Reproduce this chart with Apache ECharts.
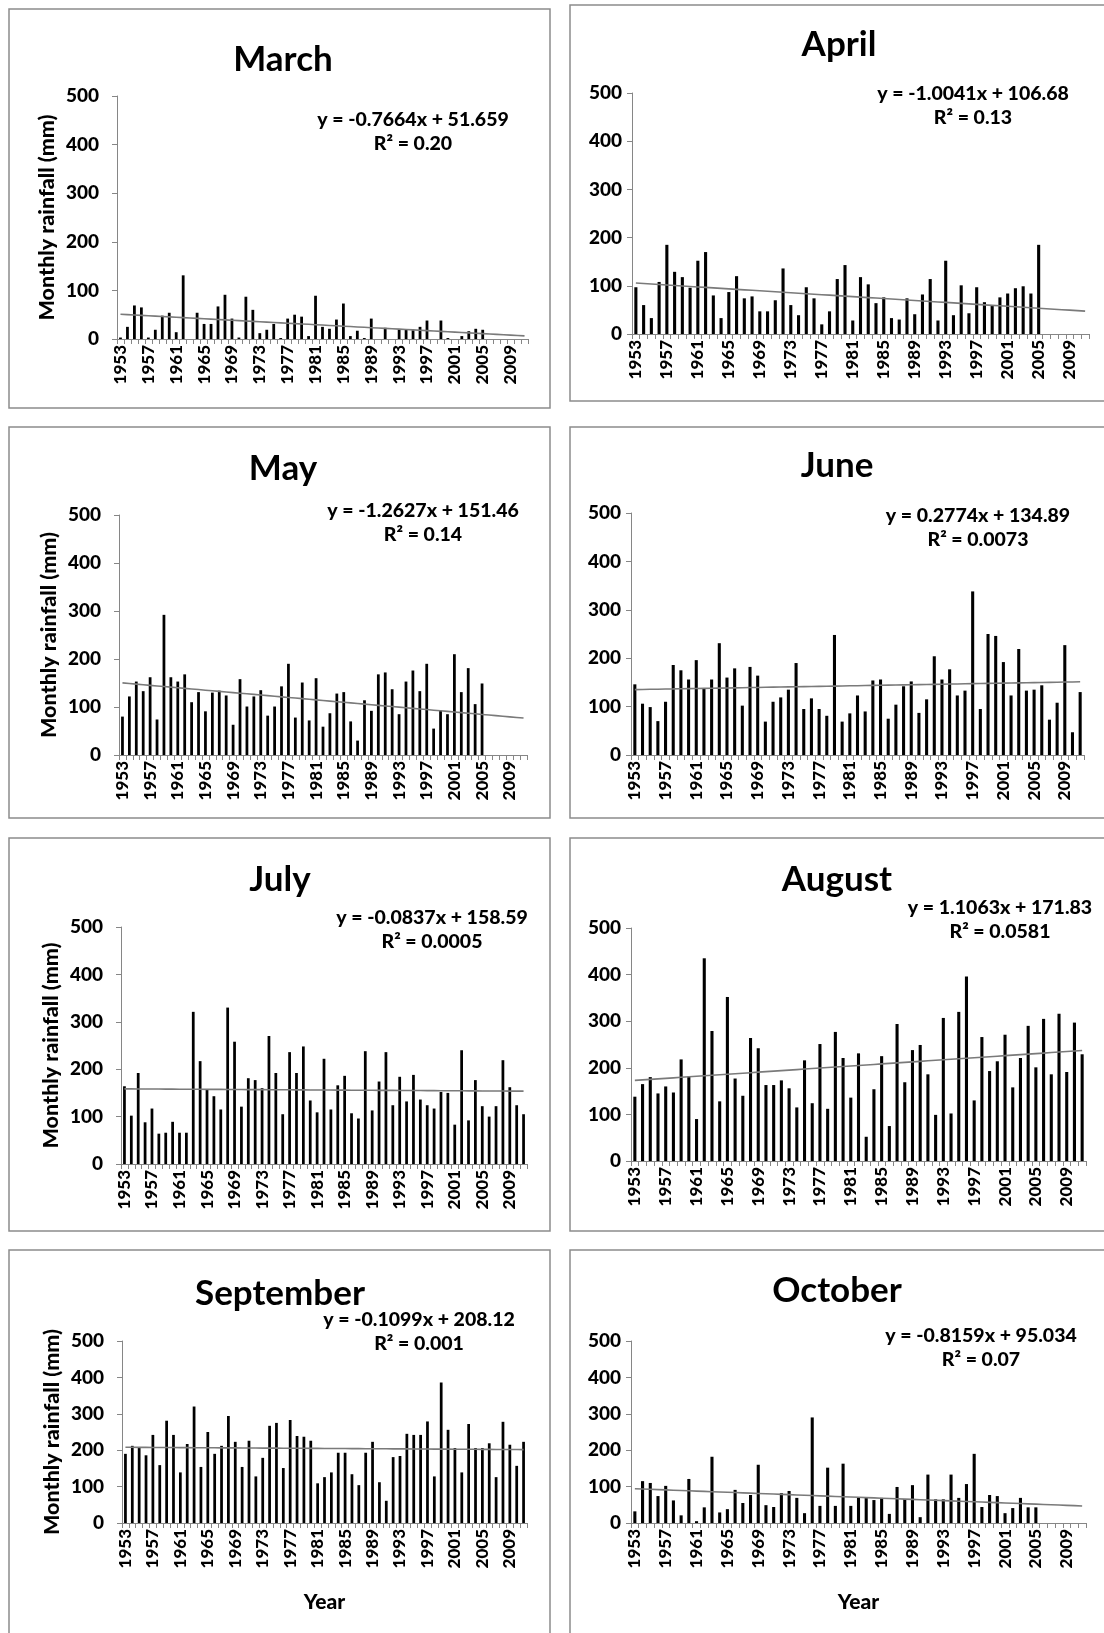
<!DOCTYPE html>
<html>
<head>
<meta charset="utf-8">
<script src="https://cdn.jsdelivr.net/npm/echarts@6/dist/echarts.min.js"></script>
<style>
  html, body { margin: 0; padding: 0; background: #ffffff; }
  #chart { width: 1104px; height: 1633px; }
</style>
</head>
<body>
<div id="chart"></div>
<script>
// Years on the category axis (1953–2011)
const years = ['1953','1954','1955','1956','1957','1958','1959','1960','1961','1962',
  '1963','1964','1965','1966','1967','1968','1969','1970','1971','1972',
  '1973','1974','1975','1976','1977','1978','1979','1980','1981','1982',
  '1983','1984','1985','1986','1987','1988','1989','1990','1991','1992',
  '1993','1994','1995','1996','1997','1998','1999','2000','2001','2002',
  '2003','2004','2005','2006','2007','2008','2009','2010','2011'];

// Monthly rainfall totals (mm); null = no record for that year
const march = [3,25,69,65,3,19,48,54,14,131, 0,54,31,31,67,91,42,3,87,60,
  12,19,31,2,42,50,46,6,89,25, 21,40,73,6,17,2,42,0,23,0,
  20,19,18,25,38,0,38,2,0,6, 16,21,19, null,null,null,null,null,null];
const april = [97,60,33,108,185,129,118,96,152,170, 80,33,87,120,74,78,47,47,70,136,
  60,39,97,74,20,47,114,143,28,118, 103,64,76,33,30,74,41,82,114,28,
  152,39,101,43,97,66,59,76,84,95, 99,84,185, null,null,null,null,null,null];
const may = [80,122,153,133,162,74,292,162,153,168, 110,131,91,130,134,124,63,158,101,122,
  135,82,101,143,190,78,151,72,160,59, 87,128,131,70,30,114,92,168,172,137,
  85,153,176,133,190,55,92,85,210,131, 181,106,149, null,null,null,null,null,null];
const june = [146,106,99,70,110,186,175,156,196,137, 156,231,160,179,102,182,164,69,110,119,
  135,190,95,117,95,81,248,69,86,123, 90,154,156,75,104,142,152,87,115,204,
  156,177,123,133,338,95,250,246,192,123, 219,133,135,144,73,108,227,47,130];
const july = [164,102,192,88,117,64,66,89,66,66, 321,217,157,143,115,330,258,121,181,177,
  160,270,192,105,236,192,248,134,109,222, 115,166,186,107,96,238,113,174,236,124,
  184,132,188,136,124,117,152,150,83,240, 92,177,122,100,122,219,162,124,105];
const august = [138,165,180,145,160,147,218,181,90,435, 279,128,352,177,140,264,242,163,163,173,
  156,115,216,124,251,112,277,221,136,231, 52,154,225,75,294,169,238,249,186,99,
  307,102,320,396,130,266,193,214,271,158, 221,290,201,305,186,316,191,297,229];
const september = [190,212,208,186,242,159,281,242,139,217, 320,154,250,190,212,294,223,154,226,128,
  179,267,275,151,283,239,237,226,109,126, 139,193,193,134,104,193,223,112,61,181,
  184,245,242,242,279,128,386,256,206,139, 272,206,206,219,126,278,215,157,223];
const october = [32,115,110,74,102,62,21,121,5,43, 182,29,38,91,55,77,160,49,44,82,
  88,69,27,290,47,152,47,163,47,69, 71,63,69,25,99,66,104,16,133,65,
  65,133,69,107,190,44,77,74,27,41, 69,43,43, null,null,null,null,null,null];

// Linear trend coefficients (x = 1 for the first year) and R² labels
const slopes     = [-0.7664, -1.0041, -1.2627, 0.2774, -0.0837, 1.1063, -0.1099, -0.8159];
const intercepts = [51.659, 106.68, 151.46, 134.89, 158.59, 171.83, 208.12, 95.034];
const r2Labels   = ['0.20', '0.13', '0.14', '0.0073', '0.0005', '0.0581', '0.001', '0.07'];
const eqLabels   = ['-0.7664x + 51.659', '-1.0041x + 106.68', '-1.2627x + 151.46', '0.2774x + 134.89',
                    '-0.0837x + 158.59', '1.1063x + 171.83', '-0.1099x + 208.12', '-0.8159x + 95.034'];
const monthNames = ['March', 'April', 'May', 'June', 'July', 'August', 'September', 'October'];
const monthData  = [march, april, may, june, july, august, september, october];
const yTicks = [0, 100, 200, 300, 400, 500];

const FONT = 'Lato, "Open Sans", "DejaVu Sans", sans-serif';
const HEAVY = 900;
const AXIS_GREY = '#868686';

// Panel layout: frame box, plot grid, title centre, equation centre
const layout = [
  { box: [9, 9, 541, 399],   grid: [117, 96, 411, 243],   title: [283, 60],  eq: [413, 120], col: 0, bottom: false },
  { box: [570, 5, 545, 396], grid: [632, 93, 457, 241],   title: [839, 45],  eq: [973, 94],  col: 1, bottom: false },
  { box: [9, 427, 541, 391], grid: [119, 515, 408, 240],  title: [283, 469], eq: [423, 511], col: 0, bottom: false },
  { box: [570, 427, 545, 391], grid: [631, 513, 453, 242], title: [837, 466], eq: [978, 516], col: 1, bottom: false },
  { box: [9, 838, 541, 393], grid: [121, 927, 406, 237],  title: [280, 880], eq: [432, 918], col: 0, bottom: false },
  { box: [570, 838, 545, 393], grid: [631, 928, 455, 233], title: [837, 880], eq: [1000, 908], col: 1, bottom: false },
  { box: [9, 1250, 541, 400], grid: [122, 1341, 405, 182], title: [280, 1294], eq: [419, 1320], col: 0, bottom: true },
  { box: [570, 1250, 545, 400], grid: [631, 1341, 455, 182], title: [837, 1291], eq: [981, 1336], col: 1, bottom: true }
];

const grids = [], xAxes = [], yAxes = [], series = [], graphics = [];

layout.forEach((p, k) => {
  grids.push({ left: p.grid[0], top: p.grid[1], width: p.grid[2], height: p.grid[3], containLabel: false });

  xAxes.push({
    gridIndex: k, type: 'category', data: years, boundaryGap: true,
    axisLine: { show: true, lineStyle: { color: AXIS_GREY, width: 1 } },
    axisTick: { show: true, interval: 0, length: 5, lineStyle: { color: AXIS_GREY } },
    axisLabel: { interval: 3, rotate: 90, margin: 6, color: '#000', fontFamily: FONT,
                 fontWeight: HEAVY, fontSize: 17 },
    splitLine: { show: false },
    name: p.bottom ? 'Year' : '', nameLocation: 'middle', nameGap: 69,
    nameTextStyle: { color: '#000', fontFamily: FONT, fontWeight: HEAVY, fontSize: 21 }
  });

  yAxes.push({
    gridIndex: k, type: 'value', min: yTicks[0], max: yTicks[yTicks.length - 1], interval: 100,
    axisLine: { show: true, lineStyle: { color: AXIS_GREY, width: 1 } },
    axisTick: { show: true, length: 5, lineStyle: { color: AXIS_GREY } },
    axisLabel: { margin: p.col === 0 ? 18 : 10, color: '#000', fontFamily: FONT,
                 fontWeight: HEAVY, fontSize: 19 },
    splitLine: { show: false },
    name: p.col === 0 ? 'Monthly rainfall (mm)' : '', nameLocation: 'middle', nameRotate: 90,
    nameGap: 59,
    nameTextStyle: { color: '#000', fontFamily: FONT, fontWeight: HEAVY, fontSize: 21.5 }
  });

  series.push({
    type: 'bar', xAxisIndex: k, yAxisIndex: k, data: monthData[k],
    barWidth: '40%', itemStyle: { color: '#000' }, silent: true, z: 2
  });

  // Fitted trend from the stated equation
  const trend = years.map((_, i) => +(slopes[k] * (i + 1) + intercepts[k]).toFixed(3));
  series.push({
    type: 'line', xAxisIndex: k, yAxisIndex: k, data: trend,
    showSymbol: false, symbol: 'none', silent: true, z: 3,
    lineStyle: { color: '#7a7a7a', width: 1.6 }
  });

  graphics.push({
    type: 'rect', shape: { x: p.box[0], y: p.box[1], width: p.box[2], height: p.box[3] },
    style: { fill: 'none', stroke: '#8c8c8c', lineWidth: 1.5 }, silent: true, z: 0
  });
  graphics.push({
    type: 'text', x: p.title[0], y: p.title[1],
    style: { text: monthNames[k], fill: '#000', font: 'bold 35px ' + FONT,
             textAlign: 'center', textVerticalAlign: 'middle' }, z: 10
  });
  graphics.push({
    type: 'text', x: p.eq[0], y: p.eq[1],
    style: { text: 'y = ' + eqLabels[k], fill: '#000', font: HEAVY + ' 19.5px ' + FONT,
             textAlign: 'center', textVerticalAlign: 'middle' }, z: 10
  });
  graphics.push({
    type: 'text', x: p.eq[0], y: p.eq[1] + 24,
    style: { text: 'R² = ' + r2Labels[k], fill: '#000', font: HEAVY + ' 19.5px ' + FONT,
             textAlign: 'center', textVerticalAlign: 'middle' }, z: 10
  });
});

const chart = echarts.init(document.getElementById('chart'), null, { renderer: 'canvas' });
chart.setOption({
  animation: false,
  backgroundColor: '#ffffff',
  textStyle: { fontFamily: FONT },
  grid: grids,
  xAxis: xAxes,
  yAxis: yAxes,
  series: series,
  graphic: graphics
});
</script>
</body>
</html>
